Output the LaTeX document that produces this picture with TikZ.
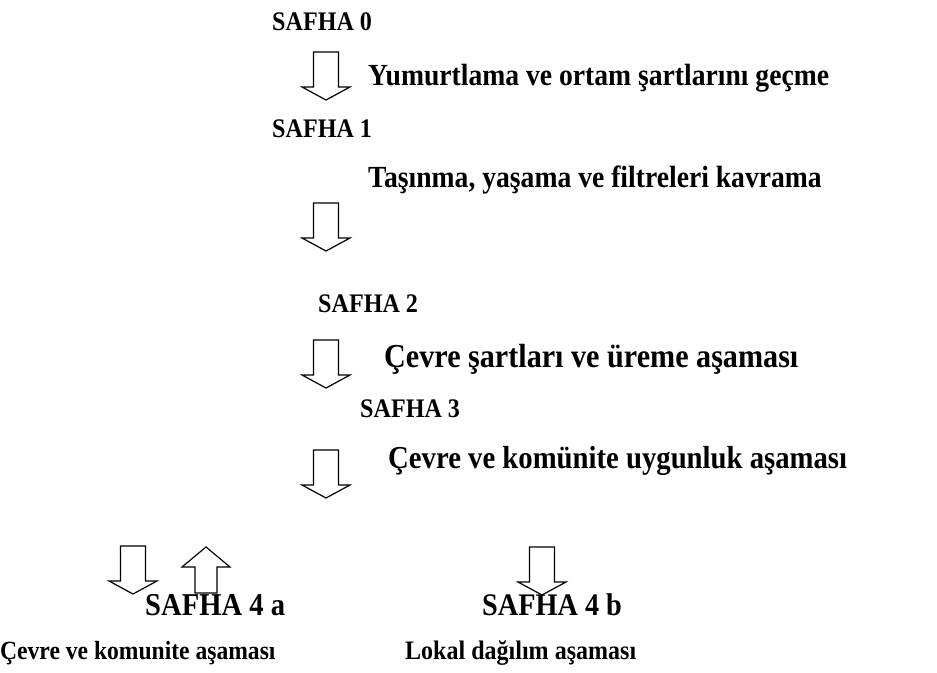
\documentclass[tikz,border=0pt]{standalone}
\usepackage{fontspec}
\setmainfont{Liberation Serif}[FakeStretch=0.9]
\tikzset{
  lbl/.style={anchor=base west, inner sep=0pt, font=\fontsize{#1}{#1}\selectfont\bfseries},
  blockarrow/.style={draw=black, line width=1.2pt, fill=white, line join=miter},
  pics/downarrow/.style={code={
    \draw[blockarrow] (-12.5,0) -- (12.5,0) -- (12.5,35) -- (24,35) -- (0,48) -- (-24,35) -- (-12.5,35) -- cycle;
  }},
  pics/uparrow/.style={code={
    \draw[blockarrow] (-11,0) -- (11,0) -- (11,-26) -- (24,-26) -- (0,-46) -- (-24,-26) -- (-11,-26) -- cycle;
  }}
}
\begin{document}
\begin{tikzpicture}[x=1pt,y=-1pt]
\useasboundingbox (0,0) rectangle (937,672);
\node[lbl=26.8] (s0) at (272,30) {SAFHA 0};
\pic at (326,52) {downarrow};
\node[lbl=30.7] (t1) at (368,85) {Yumurtlama ve ortam şartlarını geçme};
\node[lbl=26.8] (s1) at (272,137) {SAFHA 1};
\node[lbl=30.7] (t2) at (368,187) {Taşınma, yaşama ve filtreleri kavrama};
\pic at (326,203) {downarrow};
\node[lbl=26.8] (s2) at (318,312) {SAFHA 2};
\pic at (326,340) {downarrow};
\node[lbl=33.5] (t3) at (384,367) {Çevre şartları ve üreme aşaması};
\node[lbl=26.8] (s3) at (360,417) {SAFHA 3};
\node[lbl=31.9] (t4) at (388,468) {Çevre ve komünite uygunluk aşaması};
\pic at (326,450) {downarrow};
\node[lbl=31.8] (s4a) at (145,615) {SAFHA 4 a};
\node[lbl=31.4] (s4b) at (482,615) {SAFHA 4 b};
\pic at (133,546) {downarrow};
\pic at (206,593) {uparrow};
\pic at (542,547) {downarrow};
\node[lbl=26.2] (b1) at (0,659) {Çevre ve komunite aşaması};
\node[lbl=26.7] (b2) at (405,659) {Lokal dağılım aşaması};
\end{tikzpicture}
\end{document}
